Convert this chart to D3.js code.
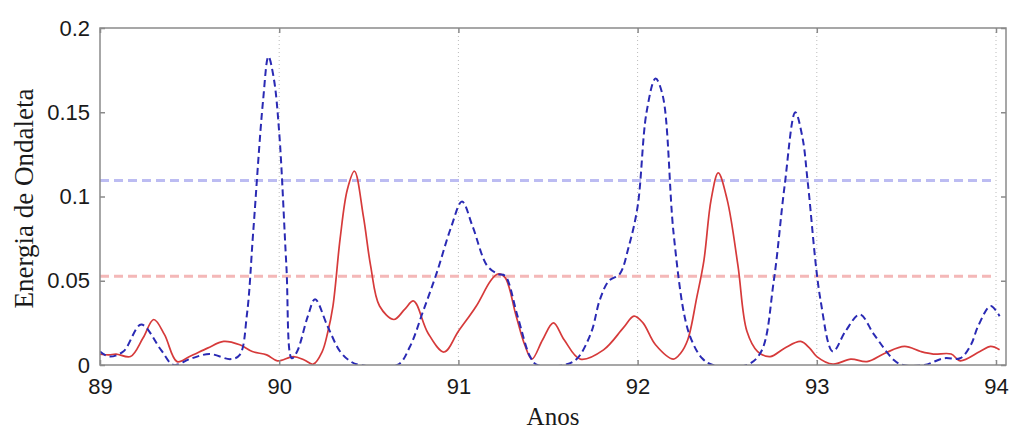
<!DOCTYPE html>
<html>
<head>
<meta charset="utf-8">
<script src="https://cdn.jsdelivr.net/npm/d3@7"></script>
<style>
  html, body { margin: 0; padding: 0; background: #fff; }
  svg { display: block; }
</style>
</head>
<body>
<svg id="chart" width="1013" height="430"></svg>
<script>
// ---- data ----
const xTicks = [89, 90, 91, 92, 93, 94];
const yTicks = [0, 0.05, 0.1, 0.15, 0.2];
const yTickLabels = ["0", "0.05", "0.1", "0.15", "0.2"];
const xTitle = "Anos";
const yTitle = "Energia de Ondaleta";
const thresholdBlue = 0.1095;
const thresholdRed = 0.0527;

const blueYears = [89.00, 89.05, 89.13, 89.23, 89.34, 89.41, 89.50, 89.61, 89.73, 89.78, 89.82, 89.855, 89.91, 89.94, 89.97, 90.00, 90.04, 90.07, 90.10, 90.16, 90.20, 90.27, 90.34, 90.40, 90.45, 90.66, 90.73, 90.80, 90.88, 90.96, 91.02, 91.08, 91.16, 91.22, 91.26, 91.33, 91.40, 91.44, 91.59, 91.66, 91.74, 91.79, 91.84, 91.90, 91.95, 92.00, 92.05, 92.10, 92.14, 92.20, 92.26, 92.30, 92.36, 92.42, 92.61, 92.69, 92.76, 92.82, 92.88, 92.92, 92.95, 93.02, 93.09, 93.16, 93.24, 93.32, 93.43, 93.48, 93.60, 93.71, 93.80, 93.86, 93.90, 93.97, 94.02];
const blueValues = [0.008, 0.005, 0.008, 0.024, 0.009, 0.000, 0.0035, 0.0065, 0.0035, 0.006, 0.030, 0.079, 0.157, 0.183, 0.170, 0.138, 0.059, 0.004, 0.008, 0.029, 0.039, 0.023, 0.008, 0.002, 0.000, 0.000, 0.011, 0.031, 0.055, 0.082, 0.097, 0.082, 0.059, 0.054, 0.053, 0.029, 0.005, 0.000, 0.000, 0.0035, 0.019, 0.039, 0.050, 0.054, 0.070, 0.094, 0.150, 0.170, 0.160, 0.079, 0.030, 0.015, 0.004, 0.000, 0.000, 0.008, 0.050, 0.106, 0.150, 0.135, 0.108, 0.039, 0.008, 0.020, 0.030, 0.018, 0.003, 0.000, 0.000, 0.004, 0.004, 0.012, 0.023, 0.035, 0.029];

const redYears = [89.00, 89.05, 89.09, 89.17, 89.24, 89.30, 89.36, 89.43, 89.50, 89.60, 89.69, 89.78, 89.85, 89.93, 89.99, 90.08, 90.14, 90.19, 90.24, 90.27, 90.30, 90.34, 90.38, 90.42, 90.47, 90.51, 90.56, 90.64, 90.70, 90.75, 90.83, 90.92, 91.00, 91.10, 91.18, 91.22, 91.26, 91.32, 91.37, 91.41, 91.47, 91.53, 91.59, 91.68, 91.81, 91.92, 91.98, 92.03, 92.10, 92.20, 92.24, 92.28, 92.33, 92.37, 92.41, 92.45, 92.50, 92.56, 92.61, 92.67, 92.74, 92.82, 92.91, 92.96, 93.00, 93.09, 93.19, 93.28, 93.38, 93.49, 93.58, 93.65, 93.75, 93.80, 93.91, 93.97, 94.02];
const redValues = [0.0065, 0.006, 0.0065, 0.005, 0.016, 0.027, 0.018, 0.002, 0.005, 0.010, 0.014, 0.012, 0.008, 0.006, 0.0025, 0.005, 0.003, 0.0005, 0.008, 0.019, 0.035, 0.075, 0.104, 0.115, 0.088, 0.059, 0.035, 0.027, 0.033, 0.038, 0.019, 0.0077, 0.020, 0.035, 0.050, 0.054, 0.052, 0.030, 0.012, 0.0035, 0.015, 0.025, 0.015, 0.0035, 0.009, 0.022, 0.029, 0.025, 0.012, 0.0035, 0.007, 0.015, 0.040, 0.062, 0.098, 0.114, 0.098, 0.059, 0.020, 0.008, 0.005, 0.010, 0.014, 0.010, 0.005, 0.0005, 0.0035, 0.002, 0.007, 0.011, 0.008, 0.0065, 0.0065, 0.0025, 0.008, 0.011, 0.009];

// ---- layout ----
const svg = d3.select("#chart");
const L = 100, R = 1006, T = 28, B = 365;
const x = d3.scaleLinear().domain([89, 94 + 10 / 179.2]).range([L, R]);
const y = d3.scaleLinear().domain([0, 0.2]).range([B, T]);

svg.append("defs").append("clipPath").attr("id", "clip")
  .append("rect").attr("x", L).attr("y", T).attr("width", R - L).attr("height", B - T);

// grid (vertical dotted)
svg.append("g").selectAll("line").data(xTicks.filter(d => d > 89)).join("line")
  .attr("x1", d => x(d)).attr("x2", d => x(d))
  .attr("y1", T).attr("y2", B)
  .attr("stroke", "#bbb").attr("stroke-width", 1)
  .attr("stroke-dasharray", "1,3");

// thresholds
const plot = svg.append("g").attr("clip-path", "url(#clip)");
plot.append("line")
  .attr("x1", x(89)).attr("x2", x(94)).attr("y1", y(thresholdBlue)).attr("y2", y(thresholdBlue))
  .attr("stroke", "#bcbcf2").attr("stroke-width", 3).attr("stroke-dasharray", "9,5");
plot.append("line")
  .attr("x1", x(89)).attr("x2", x(94)).attr("y1", y(thresholdRed)).attr("y2", y(thresholdRed))
  .attr("stroke", "#f4b8b8").attr("stroke-width", 3).attr("stroke-dasharray", "9,5");

// curves
const line = d3.line().x(d => x(d[0])).y(d => y(d[1])).curve(d3.curveCatmullRom.alpha(0.5));
const redData = redYears.map((v, i) => [v, redValues[i]]);
const blueData = blueYears.map((v, i) => [v, blueValues[i]]);

plot.append("path").datum(redData).attr("d", line)
  .attr("fill", "none").attr("stroke", "#d63a3a").attr("stroke-width", 1.7);
plot.append("path").datum(blueData).attr("d", line)
  .attr("fill", "none").attr("stroke", "#2a2ab4").attr("stroke-width", 2)
  .attr("stroke-dasharray", "7,4");

// frame
svg.append("rect").attr("x", L).attr("y", T).attr("width", R - L).attr("height", B - T)
  .attr("fill", "none").attr("stroke", "#8a8a8a").attr("stroke-width", 1.5);

// axes (ticks inward)
const fontSans = "'Liberation Sans', Arial, sans-serif";
const fontSerif = "'Liberation Serif', 'Times New Roman', serif";

const xAxis = svg.append("g").attr("transform", `translate(0,${B})`)
  .call(d3.axisBottom(x).tickValues(xTicks).tickSize(-5).tickPadding(13).tickFormat(d3.format("d")));
const xAxisTop = svg.append("g").attr("transform", `translate(0,${T})`)
  .call(d3.axisTop(x).tickValues(xTicks).tickSize(-5).tickFormat(""));
const yAxis = svg.append("g").attr("transform", `translate(${L},0)`)
  .call(d3.axisLeft(y).tickValues(yTicks).tickSize(-5).tickPadding(10).tickFormat((d, i) => yTickLabels[i]));
const yAxisRight = svg.append("g").attr("transform", `translate(${R},0)`)
  .call(d3.axisRight(y).tickValues(yTicks).tickSize(-5).tickFormat(""));

[xAxis, xAxisTop, yAxis, yAxisRight].forEach(g => {
  g.select(".domain").remove();
  g.selectAll(".tick line").attr("stroke", "#8a8a8a").attr("stroke-width", 1.5);
  g.selectAll("text").attr("font-family", fontSans).attr("font-size", 22).attr("fill", "#1a1a1a");
});

// titles
svg.append("text").attr("x", (L + R) / 2).attr("y", 425)
  .attr("text-anchor", "middle").attr("font-family", fontSerif).attr("font-size", 25)
  .attr("fill", "#1a1a1a").text(xTitle);
svg.append("text").attr("transform", `translate(33,${(T + B) / 2 + 2}) rotate(-90)`)
  .attr("text-anchor", "middle").attr("font-family", fontSerif).attr("font-size", 27)
  .attr("fill", "#1a1a1a").text(yTitle);
</script>
</body>
</html>
